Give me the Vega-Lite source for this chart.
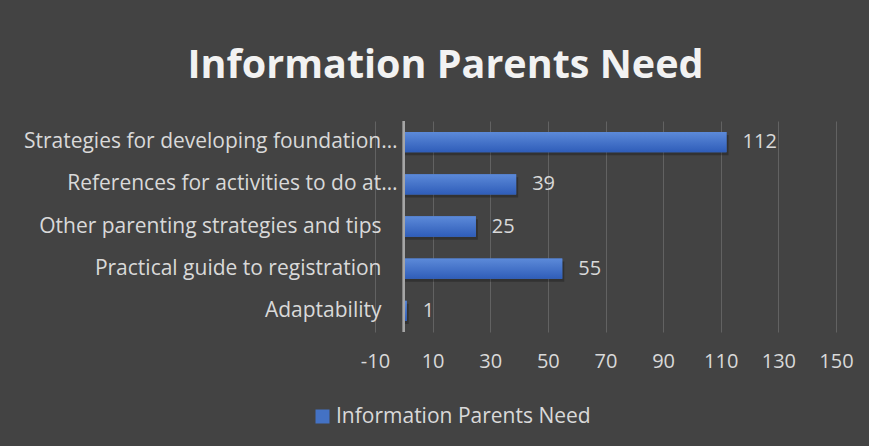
{
  "$schema": "https://vega.github.io/schema/vega-lite/v6.json",
  "width": 461,
  "height": 211,
  "autosize": {"type": "none"},
  "padding": {"left": 375, "top": 121, "right": 33, "bottom": 114},
  "background": "#434343",
  "title": {"text": "Information Parents Need", "color": "#f2f2f2", "font": "Open Sans", "fontSize": 39.5, "fontWeight": "bold", "anchor": "middle", "dx": -160, "offset": 34},
  "data": {"values": [
    {"category": "Strategies for developing foundation…", "count": 112},
    {"category": "References for activities to do at…", "count": 39},
    {"category": "Other parenting strategies and tips", "count": 25},
    {"category": "Practical guide to registration", "count": 55},
    {"category": "Adaptability", "count": 1}
  ]},
  "config": {"view": {"stroke": null}},
  "layer": [
    {
      "mark": {"type": "bar", "color": "#000000", "opacity": 0.25, "xOffset": 2, "yOffset": 3},
      "encoding": {
        "y": {"field": "category", "type": "nominal", "sort": null, "scale": {"paddingInner": 0.52, "paddingOuter": 0.26},
          "axis": {"title": null, "domain": false, "ticks": false, "labelColor": "#d9d9d9", "labelFont": "Open Sans", "labelFontSize": 21, "labelPadding": {"condition": {"test": "indexof(datum.label, '…') >= 0", "value": -22}, "value": -6}, "labelLimit": 0}},
        "x": {"field": "count", "type": "quantitative", "scale": {"domain": [-10, 150], "nice": false, "zero": false},
          "axis": {"title": null, "values": [-10, 10, 30, 50, 70, 90, 110, 130, 150], "labelExpr": "datum.value < 0 ? '-' + abs(datum.value) : datum.label", "domain": false, "ticks": false, "grid": true, "gridColor": "#626262", "gridWidth": 1, "labelColor": "#d9d9d9", "labelFont": "Open Sans", "labelFontSize": 20, "labelPadding": 19, "labelFlush": false, "labelOverlap": false}},
        "x2": {"datum": 0}
      }
    },
    {
      "mark": {"type": "bar"},
      "encoding": {
        "y": {"field": "category", "type": "nominal", "sort": null},
        "x": {"field": "count", "type": "quantitative"},
        "x2": {"datum": 0},
        "color": {"datum": "Information Parents Need", "scale": {"range": ["#4472C4"]},
          "legend": {"orient": "none", "legendX": -63, "legendY": 285, "title": null, "labelColor": "#d9d9d9", "labelFont": "Open Sans", "labelFontSize": 21, "labelLimit": 0, "symbolType": "square", "symbolSize": 196, "symbolStrokeWidth": 0, "symbolOpacity": 1, "labelOffset": 3}}
      }
    },
    {
      "mark": {"type": "bar", "color": {"gradient": "linear", "x1": 0, "y1": 0, "x2": 0, "y2": 1, "stops": [{"offset": 0, "color": "#5c8ad9"}, {"offset": 1, "color": "#2f5db9"}]}},
      "encoding": {
        "y": {"field": "category", "type": "nominal", "sort": null},
        "x": {"field": "count", "type": "quantitative"},
        "x2": {"datum": 0}
      }
    },
    {
      "mark": {"type": "rule", "color": "#a6a6a6", "strokeWidth": 2},
      "encoding": {"x": {"datum": 0}}
    },
    {
      "mark": {"type": "text", "align": "left", "baseline": "middle", "dx": 16, "color": "#d9d9d9", "font": "Open Sans", "fontSize": 20},
      "encoding": {
        "y": {"field": "category", "type": "nominal", "sort": null},
        "x": {"field": "count", "type": "quantitative"},
        "text": {"field": "count", "type": "quantitative"}
      }
    }
  ]
}
